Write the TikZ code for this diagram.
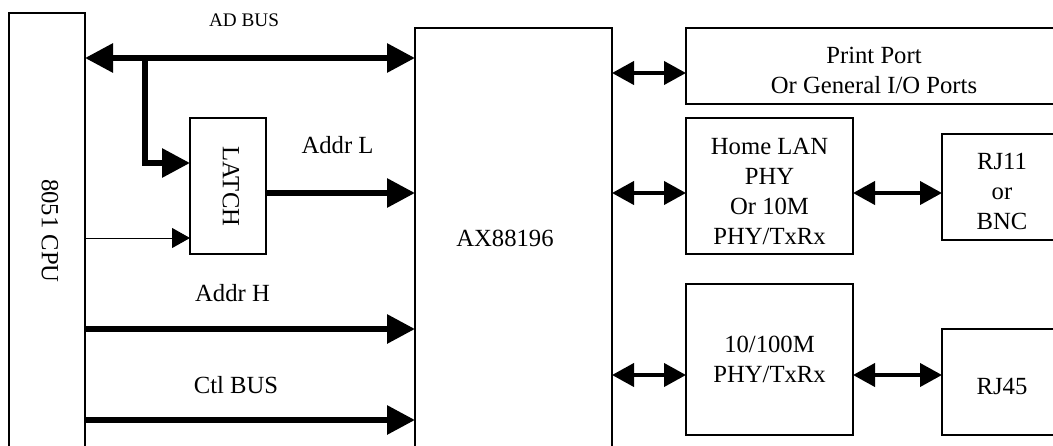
\documentclass[tikz,border=0pt]{standalone}
\usepackage{fontspec}
\setmainfont{Liberation Serif}
\usetikzlibrary{arrows.meta}
\begin{document}
\begin{tikzpicture}[x=0.75pt,y=-0.75pt,
  box/.style={draw,line width=0.9pt,outer sep=0pt,inner sep=0pt},
  txt/.style={font=\fontsize{18.5}{22.5}\selectfont,align=center,inner sep=0pt},
  small/.style={font=\fontsize{14.4}{17}\selectfont,inner sep=0pt},
  bigbus/.style={line width=4.5pt,-{Triangle[length=21pt,width=21pt]}},
  bigdbl/.style={line width=4.5pt,{Triangle[length=21pt,width=21pt]}-{Triangle[length=21pt,width=21pt]}},
  smalldbl/.style={line width=3pt,{Triangle[length=16.5pt,width=17.25pt]}-{Triangle[length=16.5pt,width=17.25pt]}},
  thinarrow/.style={line width=0.75pt,-{Triangle[length=13.5pt,width=15pt]}}
]
\useasboundingbox (0,0) rectangle (1053,446);
\clip (0,0) rectangle (1053,446);
% boxes
\node[box,minimum width=57pt,minimum height=327pt] (cpu) at (47,231) {};
\node[box,minimum width=57pt,minimum height=102pt] (latch) at (228,186) {};
\node[box,minimum width=147.75pt,minimum height=315pt] (ax) at (513.5,238) {};
\node[box,minimum width=282pt,minimum height=57pt] (print) at (874,66) {};
\node[box,minimum width=125.25pt,minimum height=102pt] (home) at (769.5,186) {};
\node[box,minimum width=90pt,minimum height=79.5pt] (rj11) at (1002,187) {};
\node[box,minimum width=125.25pt,minimum height=113.25pt] (phy) at (769.5,359.5) {};
\node[box,minimum width=90pt,minimum height=79.5pt] (rj45) at (1002,382) {};
% box texts
\node[txt,rotate=-90] (cpul) at (50,231) {8051 CPU};
\node[txt,rotate=-90] (latchl) at (231,186.5) {LATCH};
\node[txt] (axl) at (505,238) {AX88196};
\node[txt] (printl) at (874,70) {Print Port\\Or General I/O Ports};
\node[txt] (homel) at (769.5,191) {Home LAN\\PHY\\Or 10M\\PHY/TxRx};
\node[txt] (rj11l) at (1002,191) {RJ11\\or\\BNC};
\node[txt] (phyl) at (769.5,359) {10/100M\\PHY/TxRx};
\node[txt] (rj45l) at (1002,386) {RJ45};
% bus labels
\node[small] (adl) at (244,20.5) {AD BUS};
\node[txt] (addrl) at (337.5,145) {Addr L};
\node[txt] (addrh) at (232.5,293.5) {Addr H};
\node[txt] (ctl) at (236,385) {Ctl BUS};
% connectors
\coordinate (br) at (145,58);
\draw[bigdbl] (cpu.east |- 0,58) -- (ax.west |- 0,58);
\draw[bigbus,line join=miter] (br) |- (latch.west |- 0,163);
\draw[bigbus] (latch.east |- 0,193) -- (ax.west |- 0,193);
\draw[thinarrow] (cpu.east |- 0,238) -- (latch.west |- 0,238);
\draw[bigbus] (cpu.east |- 0,329) -- (ax.west |- 0,329);
\draw[bigbus] (cpu.east |- 0,420) -- (ax.west |- 0,420);
\draw[smalldbl] (ax.east |- 0,73) -- (print.west |- 0,73);
\draw[smalldbl] (ax.east |- 0,193) -- (home.west |- 0,193);
\draw[smalldbl] (home.east |- 0,193) -- (rj11.west |- 0,193);
\draw[smalldbl] (ax.east |- 0,375) -- (phy.west |- 0,375);
\draw[smalldbl] (phy.east |- 0,375) -- (rj45.west |- 0,375);
\end{tikzpicture}
\end{document}
